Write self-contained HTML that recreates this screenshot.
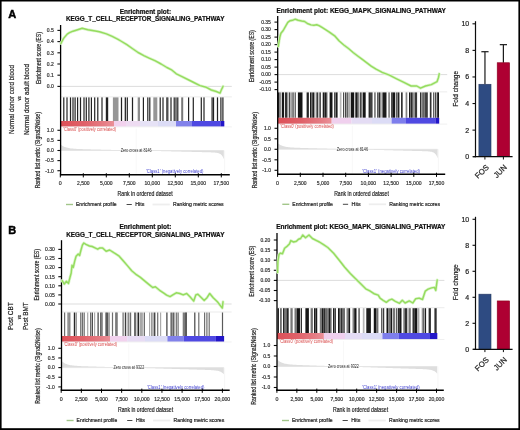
<!DOCTYPE html>
<html><head><meta charset="utf-8"><style>
html,body{margin:0;padding:0;background:#fff;}
svg{display:block;}
text{font-family:"Liberation Sans", sans-serif;}
</style></head><body>
<svg width="520" height="430" viewBox="0 0 520 430">
<rect x="0" y="0" width="520" height="430" fill="#fff"/>
<defs><filter id="bl" x="0" y="0" width="100%" height="100%"><feGaussianBlur stdDeviation="0.3"/></filter></defs>
<g opacity="0.999" filter="url(#bl)">
<line x1="57.40" y1="30.40" x2="60.60" y2="30.40" stroke="#111" stroke-width="1.1"/>
<text x="53.80" y="32.20" font-size="5.0" text-anchor="end" fill="#333" stroke="#333" stroke-width="0.2" textLength="6.95" lengthAdjust="spacingAndGlyphs">0.5</text>
<line x1="57.40" y1="41.60" x2="60.60" y2="41.60" stroke="#111" stroke-width="1.1"/>
<text x="53.80" y="43.40" font-size="5.0" text-anchor="end" fill="#333" stroke="#333" stroke-width="0.2" textLength="6.95" lengthAdjust="spacingAndGlyphs">0.4</text>
<line x1="57.40" y1="52.80" x2="60.60" y2="52.80" stroke="#111" stroke-width="1.1"/>
<text x="53.80" y="54.60" font-size="5.0" text-anchor="end" fill="#333" stroke="#333" stroke-width="0.2" textLength="6.95" lengthAdjust="spacingAndGlyphs">0.3</text>
<line x1="57.40" y1="64.00" x2="60.60" y2="64.00" stroke="#111" stroke-width="1.1"/>
<text x="53.80" y="65.80" font-size="5.0" text-anchor="end" fill="#333" stroke="#333" stroke-width="0.2" textLength="6.95" lengthAdjust="spacingAndGlyphs">0.2</text>
<line x1="57.40" y1="75.20" x2="60.60" y2="75.20" stroke="#111" stroke-width="1.1"/>
<text x="53.80" y="77.00" font-size="5.0" text-anchor="end" fill="#333" stroke="#333" stroke-width="0.2" textLength="6.95" lengthAdjust="spacingAndGlyphs">0.1</text>
<line x1="57.40" y1="86.40" x2="60.60" y2="86.40" stroke="#111" stroke-width="1.1"/>
<text x="53.80" y="88.20" font-size="5.0" text-anchor="end" fill="#333" stroke="#333" stroke-width="0.2" textLength="6.95" lengthAdjust="spacingAndGlyphs">0.0</text>
<line x1="60.60" y1="86.40" x2="231.80" y2="86.40" stroke="#cfcfcf" stroke-width="0.7"/>
<line x1="60.60" y1="96.90" x2="231.80" y2="96.90" stroke="#dedede" stroke-width="0.6"/>
<rect x="63.20" y="97.40" width="1.20" height="23.60" fill="#232323"/>
<rect x="66.40" y="97.40" width="1.20" height="23.60" fill="#232323"/>
<rect x="69.90" y="97.40" width="1.20" height="23.60" fill="#232323"/>
<rect x="72.40" y="97.40" width="1.20" height="23.60" fill="#232323"/>
<rect x="74.50" y="97.40" width="1.20" height="23.60" fill="#232323"/>
<rect x="77.00" y="97.40" width="1.20" height="23.60" fill="#232323"/>
<rect x="79.90" y="97.40" width="1.20" height="23.60" fill="#232323"/>
<rect x="83.40" y="97.40" width="1.20" height="23.60" fill="#232323"/>
<rect x="85.70" y="97.40" width="1.20" height="23.60" fill="#232323"/>
<rect x="88.30" y="97.40" width="1.20" height="23.60" fill="#232323"/>
<rect x="90.80" y="97.40" width="1.20" height="23.60" fill="#232323"/>
<rect x="94.10" y="97.40" width="1.20" height="23.60" fill="#232323"/>
<rect x="97.20" y="97.40" width="1.20" height="23.60" fill="#232323"/>
<rect x="101.40" y="97.40" width="1.20" height="23.60" fill="#232323"/>
<rect x="105.80" y="97.40" width="1.20" height="23.60" fill="#232323"/>
<rect x="107.00" y="97.40" width="1.20" height="23.60" fill="#232323"/>
<rect x="112.90" y="97.40" width="5.60" height="23.60" fill="#969696"/>
<rect x="120.90" y="97.40" width="1.20" height="23.60" fill="#232323"/>
<rect x="124.70" y="97.40" width="1.20" height="23.60" fill="#141414"/>
<rect x="126.70" y="97.40" width="1.20" height="23.60" fill="#232323"/>
<rect x="131.90" y="97.40" width="1.20" height="23.60" fill="#232323"/>
<rect x="137.70" y="97.40" width="2.30" height="23.60" fill="#8c8c8c"/>
<rect x="142.80" y="97.40" width="1.20" height="23.60" fill="#232323"/>
<rect x="147.20" y="97.40" width="1.20" height="23.60" fill="#282828"/>
<rect x="149.20" y="97.40" width="1.20" height="23.60" fill="#232323"/>
<rect x="153.30" y="97.40" width="4.00" height="23.60" fill="#969696"/>
<rect x="159.60" y="97.40" width="1.20" height="23.60" fill="#232323"/>
<rect x="162.40" y="97.40" width="1.20" height="23.60" fill="#232323"/>
<rect x="166.50" y="97.40" width="2.30" height="23.60" fill="#969696"/>
<rect x="166.40" y="97.40" width="1.20" height="23.60" fill="#232323"/>
<rect x="170.40" y="97.40" width="1.20" height="23.60" fill="#232323"/>
<rect x="173.60" y="97.40" width="1.20" height="23.60" fill="#232323"/>
<rect x="175.40" y="97.40" width="1.20" height="23.60" fill="#232323"/>
<rect x="177.20" y="97.40" width="1.20" height="23.60" fill="#232323"/>
<rect x="181.20" y="97.40" width="2.00" height="23.60" fill="#787878"/>
<rect x="188.00" y="97.40" width="1.20" height="23.60" fill="#232323"/>
<rect x="192.70" y="97.40" width="1.20" height="23.60" fill="#232323"/>
<rect x="200.70" y="97.40" width="1.20" height="23.60" fill="#232323"/>
<rect x="203.40" y="97.40" width="1.20" height="23.60" fill="#232323"/>
<rect x="211.50" y="97.40" width="1.20" height="23.60" fill="#232323"/>
<rect x="212.90" y="97.40" width="1.20" height="23.60" fill="#232323"/>
<rect x="216.90" y="97.40" width="1.20" height="23.60" fill="#232323"/>
<rect x="220.30" y="97.40" width="1.20" height="23.60" fill="#232323"/>
<rect x="222.30" y="97.40" width="1.20" height="23.60" fill="#232323"/>
<defs><linearGradient id="g58" x1="0" x2="1" y1="0" y2="0"><stop offset="0" stop-color="#dd5058"/><stop offset="0.45" stop-color="#e0626a"/><stop offset="0.8" stop-color="#e57c84"/><stop offset="1" stop-color="#ea9098"/></linearGradient></defs>
<rect x="60.60" y="121.00" width="53.40" height="5.60" fill="url(#g58)"/>
<rect x="114.00" y="121.00" width="12.00" height="5.60" fill="#f2d2ee"/>
<rect x="126.00" y="121.00" width="14.00" height="5.60" fill="#eedcf2"/>
<rect x="140.00" y="121.00" width="18.00" height="5.60" fill="#e6e2f6"/>
<rect x="158.00" y="121.00" width="18.00" height="5.60" fill="#dcdcf6"/>
<rect x="176.00" y="121.00" width="16.00" height="5.60" fill="#8282ea"/>
<rect x="192.00" y="121.00" width="28.40" height="5.60" fill="#5048e2"/>
<rect x="220.40" y="121.00" width="3.90" height="5.60" fill="#2412c8"/>
<line x1="60.60" y1="126.90" x2="231.80" y2="126.90" stroke="#e6e6e6" stroke-width="0.6"/>
<line x1="57.40" y1="130.30" x2="60.60" y2="130.30" stroke="#111" stroke-width="1.1"/>
<text x="53.80" y="132.10" font-size="5.0" text-anchor="end" fill="#333" stroke="#333" stroke-width="0.2" textLength="6.95" lengthAdjust="spacingAndGlyphs">1.0</text>
<line x1="57.40" y1="140.40" x2="60.60" y2="140.40" stroke="#111" stroke-width="1.1"/>
<text x="53.80" y="142.20" font-size="5.0" text-anchor="end" fill="#333" stroke="#333" stroke-width="0.2" textLength="6.95" lengthAdjust="spacingAndGlyphs">0.5</text>
<line x1="57.40" y1="150.50" x2="60.60" y2="150.50" stroke="#111" stroke-width="1.1"/>
<text x="53.80" y="152.30" font-size="5.0" text-anchor="end" fill="#333" stroke="#333" stroke-width="0.2" textLength="6.95" lengthAdjust="spacingAndGlyphs">0.0</text>
<line x1="57.40" y1="160.60" x2="60.60" y2="160.60" stroke="#111" stroke-width="1.1"/>
<text x="53.80" y="162.40" font-size="5.0" text-anchor="end" fill="#333" stroke="#333" stroke-width="0.2" textLength="8.55" lengthAdjust="spacingAndGlyphs">-0.5</text>
<line x1="57.40" y1="170.70" x2="60.60" y2="170.70" stroke="#111" stroke-width="1.1"/>
<text x="53.80" y="172.50" font-size="5.0" text-anchor="end" fill="#333" stroke="#333" stroke-width="0.2" textLength="8.55" lengthAdjust="spacingAndGlyphs">-1.0</text>
<polygon points="60.60,144.59 61.62,145.37 62.64,146.02 63.66,146.54 64.68,146.97 65.70,147.33 66.72,147.62 67.74,147.87 68.76,148.07 69.78,148.24 70.80,148.38 71.82,148.50 72.84,148.60 73.86,148.69 74.88,148.76 75.90,148.83 76.92,148.89 77.94,148.94 78.96,148.99 79.98,149.03 81.00,149.07 82.02,149.11 83.04,149.14 84.06,149.18 85.08,149.21 86.10,149.24 87.12,149.27 88.14,149.30 89.16,149.32 90.18,149.35 91.20,149.38 92.22,149.40 93.24,149.43 94.26,149.46 95.28,149.48 96.30,149.51 97.32,149.54 98.34,149.56 99.36,149.59 100.38,149.61 101.40,149.64 102.42,149.66 103.44,149.69 104.46,149.71 105.48,149.74 106.50,149.76 107.52,149.79 108.54,149.82 109.56,149.84 110.58,149.87 111.60,149.89 112.62,149.92 113.64,149.94 114.66,149.97 115.68,149.99 116.70,150.02 117.72,150.04 118.74,150.07 119.76,150.09 120.78,150.12 121.80,150.14 122.82,150.17 123.84,150.19 124.86,150.22 125.88,150.24 126.90,150.27 127.92,150.30 128.94,150.32 129.96,150.35 130.98,150.37 132.00,150.40 133.02,150.42 134.04,150.45 135.06,150.47 136.08,150.50 137.10,150.52 138.12,150.55 139.14,150.57 140.16,150.60 141.18,150.62 142.20,150.65 143.22,150.67 144.24,150.70 145.26,150.72 146.28,150.75 147.30,150.77 148.32,150.80 149.34,150.83 150.36,150.85 151.38,150.88 152.40,150.90 153.42,150.93 154.44,150.95 155.46,150.98 156.48,151.00 157.50,151.03 158.52,151.05 159.54,151.08 160.56,151.10 161.58,151.13 162.60,151.15 163.62,151.18 164.64,151.20 165.66,151.23 166.68,151.25 167.70,151.28 168.72,151.31 169.74,151.33 170.76,151.36 171.78,151.38 172.80,151.41 173.82,151.43 174.84,151.46 175.86,151.48 176.88,151.51 177.90,151.53 178.92,151.56 179.94,151.58 180.96,151.61 181.98,151.63 183.00,151.66 184.02,151.68 185.04,151.71 186.06,151.73 187.08,151.76 188.10,151.78 189.12,151.81 190.14,151.84 191.16,151.86 192.18,151.89 193.20,151.91 194.22,151.94 195.24,151.96 196.26,151.99 197.28,152.01 198.30,152.04 199.32,152.06 200.34,152.09 201.36,152.11 202.38,152.14 203.40,152.16 204.42,152.19 205.44,152.22 206.46,152.24 207.48,152.27 208.50,152.30 209.52,152.33 210.54,152.36 211.56,152.40 212.58,152.44 213.60,152.49 214.62,152.56 215.64,152.65 216.66,152.78 217.68,152.96 218.70,153.24 219.72,153.65 220.74,154.29 221.76,155.26 222.78,156.78 223.80,159.13 223.80,150.50 60.60,150.50" fill="#dedede"/>
<line x1="60.60" y1="150.50" x2="223.80" y2="150.50" stroke="#e2e2e2" stroke-width="0.7"/>
<line x1="224.60" y1="150.50" x2="224.60" y2="173.80" stroke="#f0f0f0" stroke-width="0.6"/>
<line x1="136.20" y1="128.60" x2="136.20" y2="173.80" stroke="#f3f3f3" stroke-width="0.6"/>
<text x="136.20" y="151.90" font-size="4.5" text-anchor="middle" fill="#2a2a2a" textLength="31.00" lengthAdjust="spacingAndGlyphs">Zero cross at 8146</text>
<text x="63.20" y="131.20" font-size="4.5" text-anchor="start" fill="#d84848" textLength="52.80" lengthAdjust="spacingAndGlyphs">'Class0' (positively correlated)</text>
<text x="146.00" y="173.20" font-size="4.5" text-anchor="start" fill="#4040d0" textLength="57.40" lengthAdjust="spacingAndGlyphs">'Class1' (negatively correlated)</text>
<line x1="60.00" y1="174.80" x2="229.80" y2="174.80" stroke="#000" stroke-width="1.5"/>
<line x1="60.60" y1="25.00" x2="60.60" y2="175.50" stroke="#000" stroke-width="1.3"/>
<line x1="60.30" y1="173.20" x2="60.30" y2="177.40" stroke="#000" stroke-width="1.0"/>
<text x="60.30" y="185.10" font-size="5.3" text-anchor="middle" fill="#333" stroke="#333" stroke-width="0.2">0</text>
<line x1="83.30" y1="173.20" x2="83.30" y2="177.40" stroke="#000" stroke-width="1.0"/>
<text x="83.30" y="185.10" font-size="5.3" text-anchor="middle" fill="#333" stroke="#333" stroke-width="0.2" textLength="12.50" lengthAdjust="spacingAndGlyphs">2,500</text>
<line x1="106.30" y1="173.20" x2="106.30" y2="177.40" stroke="#000" stroke-width="1.0"/>
<text x="106.30" y="185.10" font-size="5.3" text-anchor="middle" fill="#333" stroke="#333" stroke-width="0.2" textLength="12.50" lengthAdjust="spacingAndGlyphs">5,000</text>
<line x1="129.30" y1="173.20" x2="129.30" y2="177.40" stroke="#000" stroke-width="1.0"/>
<text x="129.30" y="185.10" font-size="5.3" text-anchor="middle" fill="#333" stroke="#333" stroke-width="0.2" textLength="12.50" lengthAdjust="spacingAndGlyphs">7,500</text>
<line x1="152.30" y1="173.20" x2="152.30" y2="177.40" stroke="#000" stroke-width="1.0"/>
<text x="152.30" y="185.10" font-size="5.3" text-anchor="middle" fill="#333" stroke="#333" stroke-width="0.2" textLength="15.60" lengthAdjust="spacingAndGlyphs">10,000</text>
<line x1="175.30" y1="173.20" x2="175.30" y2="177.40" stroke="#000" stroke-width="1.0"/>
<text x="175.30" y="185.10" font-size="5.3" text-anchor="middle" fill="#333" stroke="#333" stroke-width="0.2" textLength="15.60" lengthAdjust="spacingAndGlyphs">12,500</text>
<line x1="198.30" y1="173.20" x2="198.30" y2="177.40" stroke="#000" stroke-width="1.0"/>
<text x="198.30" y="185.10" font-size="5.3" text-anchor="middle" fill="#333" stroke="#333" stroke-width="0.2" textLength="15.60" lengthAdjust="spacingAndGlyphs">15,000</text>
<line x1="221.30" y1="173.20" x2="221.30" y2="177.40" stroke="#000" stroke-width="1.0"/>
<text x="221.30" y="185.10" font-size="5.3" text-anchor="middle" fill="#333" stroke="#333" stroke-width="0.2" textLength="15.60" lengthAdjust="spacingAndGlyphs">17,500</text>
<text x="145.20" y="195.90" font-size="7.3" text-anchor="middle" fill="#222" stroke="#222" stroke-width="0.2" textLength="55.20" lengthAdjust="spacingAndGlyphs">Rank in ordered dataset</text>
<line x1="66.00" y1="204.50" x2="73.00" y2="204.50" stroke="#a2c68a" stroke-width="1.4"/>
<text x="76.00" y="206.30" font-size="5.5" text-anchor="start" fill="#222" stroke="#222" stroke-width="0.2" textLength="40.60" lengthAdjust="spacingAndGlyphs">Enrichment profile</text>
<line x1="126.60" y1="204.50" x2="131.80" y2="204.50" stroke="#333" stroke-width="0.9"/>
<text x="135.30" y="206.30" font-size="5.5" text-anchor="start" fill="#222" stroke="#222" stroke-width="0.2" textLength="9.10" lengthAdjust="spacingAndGlyphs">Hits</text>
<line x1="152.50" y1="204.50" x2="169.80" y2="204.50" stroke="#eeeeee" stroke-width="1.8"/>
<text x="173.00" y="206.30" font-size="5.5" text-anchor="start" fill="#222" stroke="#222" stroke-width="0.2" textLength="50.70" lengthAdjust="spacingAndGlyphs">Ranking metric scores</text>
<text x="41.10" y="58.10" font-size="6.6" text-anchor="middle" fill="#222" stroke="#222" stroke-width="0.2" textLength="52.00" lengthAdjust="spacingAndGlyphs" transform="rotate(-90 41.10 58.10)">Enrichment score (ES)</text>
<text x="40.10" y="150.20" font-size="6.6" text-anchor="middle" fill="#222" stroke="#222" stroke-width="0.2" textLength="76.30" lengthAdjust="spacingAndGlyphs" transform="rotate(-90 40.10 150.20)">Ranked list metric (Signal2Noise)</text>
<polyline points="61.0,43.5 61.5,42.2 63.8,38.1 67.2,34.1 69.5,32.6 73.0,31.2 77.6,29.8 82.2,28.3 88.0,29.8 93.8,30.7 99.5,31.8 106.4,33.9 112.2,36.4 118.0,39.3 120.8,41.0 126.5,44.4 132.3,48.5 138.1,52.5 143.8,55.6 149.6,58.3 155.4,60.9 161.1,64.0 166.9,67.5 171.5,69.8 176.3,73.8 182.5,76.9 188.8,80.0 193.8,82.5 200.0,85.6 206.3,87.3 211.3,90.0 216.3,91.5 220.0,93.1 221.3,90.0 223.1,86.3" fill="none" stroke="#dcf5cc" stroke-width="2.9" stroke-linejoin="round" stroke-linecap="round"/>
<polyline points="61.0,43.5 61.5,42.2 63.8,38.1 67.2,34.1 69.5,32.6 73.0,31.2 77.6,29.8 82.2,28.3 88.0,29.8 93.8,30.7 99.5,31.8 106.4,33.9 112.2,36.4 118.0,39.3 120.8,41.0 126.5,44.4 132.3,48.5 138.1,52.5 143.8,55.6 149.6,58.3 155.4,60.9 161.1,64.0 166.9,67.5 171.5,69.8 176.3,73.8 182.5,76.9 188.8,80.0 193.8,82.5 200.0,85.6 206.3,87.3 211.3,90.0 216.3,91.5 220.0,93.1 221.3,90.0 223.1,86.3" fill="none" stroke="#95dc5e" stroke-width="1.45" stroke-linejoin="round" stroke-linecap="round"/>
<text x="145.40" y="13.60" font-size="7.0" text-anchor="middle" fill="#111" font-weight="bold" textLength="51.40" lengthAdjust="spacingAndGlyphs" stroke="#111" stroke-width="0.22">Enrichment plot:</text>
<text x="145.20" y="21.20" font-size="7.0" text-anchor="middle" fill="#111" font-weight="bold" textLength="158.40" lengthAdjust="spacingAndGlyphs" stroke="#111" stroke-width="0.22">KEGG_T_CELL_RECEPTOR_SIGNALING_PATHWAY</text>
<line x1="274.50" y1="22.10" x2="277.70" y2="22.10" stroke="#111" stroke-width="1.1"/>
<text x="270.90" y="23.90" font-size="5.0" text-anchor="end" fill="#333" stroke="#333" stroke-width="0.2" textLength="9.70" lengthAdjust="spacingAndGlyphs">0.35</text>
<line x1="274.50" y1="29.60" x2="277.70" y2="29.60" stroke="#111" stroke-width="1.1"/>
<text x="270.90" y="31.40" font-size="5.0" text-anchor="end" fill="#333" stroke="#333" stroke-width="0.2" textLength="9.70" lengthAdjust="spacingAndGlyphs">0.30</text>
<line x1="274.50" y1="37.10" x2="277.70" y2="37.10" stroke="#111" stroke-width="1.1"/>
<text x="270.90" y="38.90" font-size="5.0" text-anchor="end" fill="#333" stroke="#333" stroke-width="0.2" textLength="9.70" lengthAdjust="spacingAndGlyphs">0.25</text>
<line x1="274.50" y1="44.60" x2="277.70" y2="44.60" stroke="#111" stroke-width="1.1"/>
<text x="270.90" y="46.40" font-size="5.0" text-anchor="end" fill="#333" stroke="#333" stroke-width="0.2" textLength="9.70" lengthAdjust="spacingAndGlyphs">0.20</text>
<line x1="274.50" y1="52.10" x2="277.70" y2="52.10" stroke="#111" stroke-width="1.1"/>
<text x="270.90" y="53.90" font-size="5.0" text-anchor="end" fill="#333" stroke="#333" stroke-width="0.2" textLength="9.70" lengthAdjust="spacingAndGlyphs">0.15</text>
<line x1="274.50" y1="59.60" x2="277.70" y2="59.60" stroke="#111" stroke-width="1.1"/>
<text x="270.90" y="61.40" font-size="5.0" text-anchor="end" fill="#333" stroke="#333" stroke-width="0.2" textLength="9.70" lengthAdjust="spacingAndGlyphs">0.10</text>
<line x1="274.50" y1="67.10" x2="277.70" y2="67.10" stroke="#111" stroke-width="1.1"/>
<text x="270.90" y="68.90" font-size="5.0" text-anchor="end" fill="#333" stroke="#333" stroke-width="0.2" textLength="9.70" lengthAdjust="spacingAndGlyphs">0.05</text>
<line x1="274.50" y1="74.60" x2="277.70" y2="74.60" stroke="#111" stroke-width="1.1"/>
<text x="270.90" y="76.40" font-size="5.0" text-anchor="end" fill="#333" stroke="#333" stroke-width="0.2" textLength="9.70" lengthAdjust="spacingAndGlyphs">0.00</text>
<line x1="274.50" y1="82.10" x2="277.70" y2="82.10" stroke="#111" stroke-width="1.1"/>
<text x="270.90" y="83.90" font-size="5.0" text-anchor="end" fill="#333" stroke="#333" stroke-width="0.2" textLength="11.30" lengthAdjust="spacingAndGlyphs">-0.05</text>
<line x1="274.50" y1="89.60" x2="277.70" y2="89.60" stroke="#111" stroke-width="1.1"/>
<text x="270.90" y="91.40" font-size="5.0" text-anchor="end" fill="#333" stroke="#333" stroke-width="0.2" textLength="11.30" lengthAdjust="spacingAndGlyphs">-0.10</text>
<line x1="277.70" y1="74.60" x2="447.20" y2="74.60" stroke="#cfcfcf" stroke-width="0.7"/>
<line x1="277.70" y1="91.90" x2="447.20" y2="91.90" stroke="#dedede" stroke-width="0.6"/>
<rect x="277.90" y="92.40" width="1.16" height="25.40" fill="#1e1e1e"/>
<rect x="279.46" y="92.40" width="1.05" height="25.40" fill="#1e1e1e"/>
<rect x="281.80" y="92.40" width="2.30" height="25.40" fill="#191919"/>
<rect x="285.00" y="92.40" width="2.50" height="25.40" fill="#323232"/>
<rect x="288.70" y="92.40" width="1.70" height="25.40" fill="#464646"/>
<rect x="291.60" y="92.40" width="0.93" height="25.40" fill="#1e1e1e"/>
<rect x="293.42" y="92.40" width="0.69" height="25.40" fill="#1e1e1e"/>
<rect x="294.78" y="92.40" width="0.88" height="25.40" fill="#1e1e1e"/>
<rect x="297.90" y="92.40" width="4.60" height="25.40" fill="#191919"/>
<rect x="306.60" y="92.40" width="2.30" height="25.40" fill="#282828"/>
<rect x="310.00" y="92.40" width="1.38" height="25.40" fill="#1e1e1e"/>
<rect x="311.59" y="92.40" width="1.17" height="25.40" fill="#1e1e1e"/>
<rect x="312.94" y="92.40" width="1.48" height="25.40" fill="#1e1e1e"/>
<rect x="315.80" y="92.40" width="0.76" height="25.40" fill="#1e1e1e"/>
<rect x="317.13" y="92.40" width="0.94" height="25.40" fill="#1e1e1e"/>
<rect x="318.78" y="92.40" width="0.78" height="25.40" fill="#1e1e1e"/>
<rect x="320.13" y="92.40" width="0.78" height="25.40" fill="#1e1e1e"/>
<rect x="322.70" y="92.40" width="1.46" height="25.40" fill="#1e1e1e"/>
<rect x="324.34" y="92.40" width="1.74" height="25.40" fill="#1e1e1e"/>
<rect x="326.30" y="92.40" width="1.00" height="25.40" fill="#1e1e1e"/>
<rect x="329.60" y="92.40" width="2.90" height="25.40" fill="#141414"/>
<rect x="334.20" y="92.40" width="1.22" height="25.40" fill="#1e1e1e"/>
<rect x="335.68" y="92.40" width="1.49" height="25.40" fill="#1e1e1e"/>
<rect x="337.48" y="92.40" width="0.52" height="25.40" fill="#1e1e1e"/>
<rect x="339.80" y="92.40" width="1.70" height="25.40" fill="#b9b9b9"/>
<rect x="343.20" y="92.40" width="0.93" height="25.40" fill="#1e1e1e"/>
<rect x="344.96" y="92.40" width="0.86" height="25.40" fill="#1e1e1e"/>
<rect x="346.58" y="92.40" width="1.10" height="25.40" fill="#1e1e1e"/>
<rect x="348.66" y="92.40" width="0.71" height="25.40" fill="#1e1e1e"/>
<rect x="350.70" y="92.40" width="3.50" height="25.40" fill="#141414"/>
<rect x="355.30" y="92.40" width="1.72" height="25.40" fill="#1e1e1e"/>
<rect x="357.29" y="92.40" width="1.33" height="25.40" fill="#1e1e1e"/>
<rect x="358.80" y="92.40" width="1.20" height="25.40" fill="#c8c8c8"/>
<rect x="360.00" y="92.40" width="0.84" height="25.40" fill="#1e1e1e"/>
<rect x="361.42" y="92.40" width="0.83" height="25.40" fill="#1e1e1e"/>
<rect x="362.80" y="92.40" width="2.90" height="25.40" fill="#191919"/>
<rect x="368.60" y="92.40" width="1.34" height="25.40" fill="#1e1e1e"/>
<rect x="370.15" y="92.40" width="1.70" height="25.40" fill="#1e1e1e"/>
<rect x="372.10" y="92.40" width="0.50" height="25.40" fill="#1e1e1e"/>
<rect x="374.40" y="92.40" width="1.10" height="25.40" fill="#323232"/>
<rect x="377.30" y="92.40" width="1.27" height="25.40" fill="#1e1e1e"/>
<rect x="379.07" y="92.40" width="1.30" height="25.40" fill="#1e1e1e"/>
<rect x="380.88" y="92.40" width="0.42" height="25.40" fill="#1e1e1e"/>
<rect x="382.40" y="92.40" width="4.10" height="25.40" fill="#1e1e1e"/>
<rect x="388.20" y="92.40" width="1.80" height="25.40" fill="#8c8c8c"/>
<rect x="391.10" y="92.40" width="1.20" height="25.40" fill="#3c3c3c"/>
<rect x="392.30" y="92.40" width="2.90" height="25.40" fill="#191919"/>
<rect x="396.30" y="92.40" width="1.25" height="25.40" fill="#1e1e1e"/>
<rect x="398.04" y="92.40" width="0.97" height="25.40" fill="#1e1e1e"/>
<rect x="399.39" y="92.40" width="0.41" height="25.40" fill="#1e1e1e"/>
<rect x="401.00" y="92.40" width="1.70" height="25.40" fill="#323232"/>
<rect x="405.60" y="92.40" width="1.70" height="25.40" fill="#828282"/>
<rect x="409.00" y="92.40" width="1.18" height="25.40" fill="#1e1e1e"/>
<rect x="410.46" y="92.40" width="1.48" height="25.40" fill="#1e1e1e"/>
<rect x="412.31" y="92.40" width="0.69" height="25.40" fill="#1e1e1e"/>
<rect x="413.00" y="92.40" width="1.80" height="25.40" fill="#969696"/>
<rect x="414.80" y="92.40" width="2.30" height="25.40" fill="#373737"/>
<rect x="420.00" y="92.40" width="0.92" height="25.40" fill="#1e1e1e"/>
<rect x="421.55" y="92.40" width="1.05" height="25.40" fill="#1e1e1e"/>
<rect x="423.32" y="92.40" width="0.99" height="25.40" fill="#1e1e1e"/>
<rect x="424.60" y="92.40" width="1.24" height="25.40" fill="#1e1e1e"/>
<rect x="426.14" y="92.40" width="1.56" height="25.40" fill="#1e1e1e"/>
<rect x="429.80" y="92.40" width="1.70" height="25.40" fill="#323232"/>
<rect x="433.30" y="92.40" width="0.98" height="25.40" fill="#1e1e1e"/>
<rect x="435.16" y="92.40" width="0.79" height="25.40" fill="#1e1e1e"/>
<rect x="436.65" y="92.40" width="0.65" height="25.40" fill="#1e1e1e"/>
<rect x="437.30" y="92.40" width="1.70" height="25.40" fill="#141414"/>
<defs><linearGradient id="g205" x1="0" x2="1" y1="0" y2="0"><stop offset="0" stop-color="#dd5058"/><stop offset="0.45" stop-color="#e0626a"/><stop offset="0.8" stop-color="#e57c84"/><stop offset="1" stop-color="#ea9098"/></linearGradient></defs>
<rect x="277.70" y="117.80" width="54.00" height="6.00" fill="url(#g205)"/>
<rect x="331.70" y="117.80" width="19.90" height="6.00" fill="#f0d0ee"/>
<rect x="351.60" y="117.80" width="20.40" height="6.00" fill="#e4dcf4"/>
<rect x="372.00" y="117.80" width="19.60" height="6.00" fill="#dcdcf6"/>
<rect x="391.60" y="117.80" width="14.40" height="6.00" fill="#7e7eec"/>
<rect x="406.00" y="117.80" width="29.40" height="6.00" fill="#5048e2"/>
<rect x="435.40" y="117.80" width="3.80" height="6.00" fill="#2412c8"/>
<line x1="277.70" y1="124.10" x2="447.20" y2="124.10" stroke="#e6e6e6" stroke-width="0.6"/>
<line x1="274.50" y1="128.30" x2="277.70" y2="128.30" stroke="#111" stroke-width="1.1"/>
<text x="270.90" y="130.10" font-size="5.0" text-anchor="end" fill="#333" stroke="#333" stroke-width="0.2" textLength="6.95" lengthAdjust="spacingAndGlyphs">1.0</text>
<line x1="274.50" y1="138.80" x2="277.70" y2="138.80" stroke="#111" stroke-width="1.1"/>
<text x="270.90" y="140.60" font-size="5.0" text-anchor="end" fill="#333" stroke="#333" stroke-width="0.2" textLength="6.95" lengthAdjust="spacingAndGlyphs">0.5</text>
<line x1="274.50" y1="149.30" x2="277.70" y2="149.30" stroke="#111" stroke-width="1.1"/>
<text x="270.90" y="151.10" font-size="5.0" text-anchor="end" fill="#333" stroke="#333" stroke-width="0.2" textLength="6.95" lengthAdjust="spacingAndGlyphs">0.0</text>
<line x1="274.50" y1="159.80" x2="277.70" y2="159.80" stroke="#111" stroke-width="1.1"/>
<text x="270.90" y="161.60" font-size="5.0" text-anchor="end" fill="#333" stroke="#333" stroke-width="0.2" textLength="8.55" lengthAdjust="spacingAndGlyphs">-0.5</text>
<line x1="274.50" y1="170.30" x2="277.70" y2="170.30" stroke="#111" stroke-width="1.1"/>
<text x="270.90" y="172.10" font-size="5.0" text-anchor="end" fill="#333" stroke="#333" stroke-width="0.2" textLength="8.55" lengthAdjust="spacingAndGlyphs">-1.0</text>
<polygon points="277.70,143.14 278.70,143.95 279.70,144.62 280.70,145.17 281.70,145.62 282.70,145.99 283.70,146.29 284.70,146.54 285.69,146.75 286.69,146.93 287.69,147.08 288.69,147.20 289.69,147.31 290.69,147.40 291.69,147.48 292.69,147.55 293.69,147.61 294.69,147.66 295.69,147.71 296.69,147.76 297.69,147.80 298.69,147.84 299.69,147.87 300.69,147.91 301.69,147.94 302.68,147.97 303.68,148.00 304.68,148.03 305.68,148.06 306.68,148.09 307.68,148.12 308.68,148.15 309.68,148.17 310.68,148.20 311.68,148.23 312.68,148.25 313.68,148.28 314.68,148.31 315.68,148.33 316.68,148.36 317.68,148.39 318.67,148.41 319.67,148.44 320.67,148.47 321.67,148.49 322.67,148.52 323.67,148.55 324.67,148.57 325.67,148.60 326.67,148.62 327.67,148.65 328.67,148.68 329.67,148.70 330.67,148.73 331.67,148.76 332.67,148.78 333.67,148.81 334.66,148.83 335.66,148.86 336.66,148.89 337.66,148.91 338.66,148.94 339.66,148.97 340.66,148.99 341.66,149.02 342.66,149.04 343.66,149.07 344.66,149.10 345.66,149.12 346.66,149.15 347.66,149.18 348.66,149.20 349.65,149.23 350.65,149.25 351.65,149.28 352.65,149.31 353.65,149.33 354.65,149.36 355.65,149.39 356.65,149.41 357.65,149.44 358.65,149.46 359.65,149.49 360.65,149.52 361.65,149.54 362.65,149.57 363.65,149.60 364.65,149.62 365.64,149.65 366.64,149.67 367.64,149.70 368.64,149.73 369.64,149.75 370.64,149.78 371.64,149.81 372.64,149.83 373.64,149.86 374.64,149.88 375.64,149.91 376.64,149.94 377.64,149.96 378.64,149.99 379.64,150.02 380.64,150.04 381.63,150.07 382.63,150.09 383.63,150.12 384.63,150.15 385.63,150.17 386.63,150.20 387.63,150.23 388.63,150.25 389.63,150.28 390.63,150.30 391.63,150.33 392.63,150.36 393.63,150.38 394.63,150.41 395.63,150.44 396.63,150.46 397.62,150.49 398.62,150.51 399.62,150.54 400.62,150.57 401.62,150.59 402.62,150.62 403.62,150.65 404.62,150.67 405.62,150.70 406.62,150.72 407.62,150.75 408.62,150.78 409.62,150.80 410.62,150.83 411.62,150.86 412.62,150.88 413.62,150.91 414.61,150.93 415.61,150.96 416.61,150.99 417.61,151.01 418.61,151.04 419.61,151.07 420.61,151.10 421.61,151.12 422.61,151.15 423.61,151.18 424.61,151.22 425.61,151.25 426.61,151.30 427.61,151.35 428.61,151.42 429.61,151.52 430.60,151.65 431.60,151.84 432.60,152.13 433.60,152.56 434.60,153.22 435.60,154.24 436.60,155.81 437.60,158.26 437.60,149.30 277.70,149.30" fill="#dedede"/>
<line x1="277.70" y1="149.30" x2="437.60" y2="149.30" stroke="#e2e2e2" stroke-width="0.7"/>
<line x1="438.40" y1="149.30" x2="438.40" y2="173.30" stroke="#f0f0f0" stroke-width="0.6"/>
<line x1="352.40" y1="125.80" x2="352.40" y2="173.30" stroke="#f3f3f3" stroke-width="0.6"/>
<text x="352.40" y="150.70" font-size="4.5" text-anchor="middle" fill="#2a2a2a" textLength="31.20" lengthAdjust="spacingAndGlyphs">Zero cross at 8146</text>
<text x="280.30" y="127.80" font-size="4.5" text-anchor="start" fill="#d84848" textLength="53.50" lengthAdjust="spacingAndGlyphs">'Class0' (positively correlated)</text>
<text x="362.30" y="172.90" font-size="4.5" text-anchor="start" fill="#4040d0" textLength="57.70" lengthAdjust="spacingAndGlyphs">'Class1' (negatively correlated)</text>
<line x1="277.10" y1="174.30" x2="445.20" y2="174.30" stroke="#000" stroke-width="1.5"/>
<line x1="277.70" y1="16.00" x2="277.70" y2="175.00" stroke="#000" stroke-width="1.3"/>
<line x1="277.60" y1="172.70" x2="277.60" y2="176.90" stroke="#000" stroke-width="1.0"/>
<text x="277.60" y="185.20" font-size="5.3" text-anchor="middle" fill="#333" stroke="#333" stroke-width="0.2">0</text>
<line x1="300.30" y1="172.70" x2="300.30" y2="176.90" stroke="#000" stroke-width="1.0"/>
<text x="300.30" y="185.20" font-size="5.3" text-anchor="middle" fill="#333" stroke="#333" stroke-width="0.2" textLength="12.50" lengthAdjust="spacingAndGlyphs">2,500</text>
<line x1="323.00" y1="172.70" x2="323.00" y2="176.90" stroke="#000" stroke-width="1.0"/>
<text x="323.00" y="185.20" font-size="5.3" text-anchor="middle" fill="#333" stroke="#333" stroke-width="0.2" textLength="12.50" lengthAdjust="spacingAndGlyphs">5,000</text>
<line x1="345.70" y1="172.70" x2="345.70" y2="176.90" stroke="#000" stroke-width="1.0"/>
<text x="345.70" y="185.20" font-size="5.3" text-anchor="middle" fill="#333" stroke="#333" stroke-width="0.2" textLength="12.50" lengthAdjust="spacingAndGlyphs">7,500</text>
<line x1="368.40" y1="172.70" x2="368.40" y2="176.90" stroke="#000" stroke-width="1.0"/>
<text x="368.40" y="185.20" font-size="5.3" text-anchor="middle" fill="#333" stroke="#333" stroke-width="0.2" textLength="15.60" lengthAdjust="spacingAndGlyphs">10,000</text>
<line x1="391.10" y1="172.70" x2="391.10" y2="176.90" stroke="#000" stroke-width="1.0"/>
<text x="391.10" y="185.20" font-size="5.3" text-anchor="middle" fill="#333" stroke="#333" stroke-width="0.2" textLength="15.60" lengthAdjust="spacingAndGlyphs">12,500</text>
<line x1="413.80" y1="172.70" x2="413.80" y2="176.90" stroke="#000" stroke-width="1.0"/>
<text x="413.80" y="185.20" font-size="5.3" text-anchor="middle" fill="#333" stroke="#333" stroke-width="0.2" textLength="15.60" lengthAdjust="spacingAndGlyphs">15,000</text>
<line x1="436.50" y1="172.70" x2="436.50" y2="176.90" stroke="#000" stroke-width="1.0"/>
<text x="436.50" y="185.20" font-size="5.3" text-anchor="middle" fill="#333" stroke="#333" stroke-width="0.2" textLength="15.60" lengthAdjust="spacingAndGlyphs">17,500</text>
<text x="361.50" y="195.90" font-size="7.3" text-anchor="middle" fill="#222" stroke="#222" stroke-width="0.2" textLength="54.70" lengthAdjust="spacingAndGlyphs">Rank in ordered dataset</text>
<line x1="282.30" y1="204.30" x2="289.30" y2="204.30" stroke="#a2c68a" stroke-width="1.4"/>
<text x="292.30" y="206.10" font-size="5.5" text-anchor="start" fill="#222" stroke="#222" stroke-width="0.2" textLength="40.60" lengthAdjust="spacingAndGlyphs">Enrichment profile</text>
<line x1="342.90" y1="204.30" x2="348.10" y2="204.30" stroke="#333" stroke-width="0.9"/>
<text x="351.60" y="206.10" font-size="5.5" text-anchor="start" fill="#222" stroke="#222" stroke-width="0.2" textLength="9.10" lengthAdjust="spacingAndGlyphs">Hits</text>
<line x1="368.80" y1="204.30" x2="386.10" y2="204.30" stroke="#eeeeee" stroke-width="1.8"/>
<text x="389.30" y="206.10" font-size="5.5" text-anchor="start" fill="#222" stroke="#222" stroke-width="0.2" textLength="50.70" lengthAdjust="spacingAndGlyphs">Ranking metric scores</text>
<text x="254.00" y="56.20" font-size="6.6" text-anchor="middle" fill="#222" stroke="#222" stroke-width="0.2" textLength="52.10" lengthAdjust="spacingAndGlyphs" transform="rotate(-90 254.00 56.20)">Enrichment score (ES)</text>
<text x="256.60" y="150.20" font-size="6.6" text-anchor="middle" fill="#222" stroke="#222" stroke-width="0.2" textLength="76.30" lengthAdjust="spacingAndGlyphs" transform="rotate(-90 256.60 150.20)">Ranked list metric (Signal2Noise)</text>
<polyline points="278.4,46.5 278.6,44.3 279.8,37.4 280.9,33.3 283.2,30.5 285.5,26.4 287.8,22.4 290.1,20.7 292.5,20.3 295.3,19.2 298.2,20.3 301.7,21.0 304.6,21.5 307.4,23.5 310.9,24.9 313.8,25.3 316.7,24.7 319.0,25.6 322.4,27.6 325.9,29.9 329.4,32.2 334.6,35.8 339.2,41.0 343.8,45.0 348.5,48.5 353.1,52.5 357.7,56.0 362.3,59.4 366.9,62.9 371.5,66.3 376.1,69.2 382.2,72.3 389.4,75.2 396.6,78.8 403.9,82.4 411.1,86.0 416.8,86.0 420.5,88.2 425.5,86.0 431.3,84.6 434.2,83.1 437.0,81.7 438.5,77.4 439.2,73.8" fill="none" stroke="#dcf5cc" stroke-width="2.9" stroke-linejoin="round" stroke-linecap="round"/>
<polyline points="278.4,46.5 278.6,44.3 279.8,37.4 280.9,33.3 283.2,30.5 285.5,26.4 287.8,22.4 290.1,20.7 292.5,20.3 295.3,19.2 298.2,20.3 301.7,21.0 304.6,21.5 307.4,23.5 310.9,24.9 313.8,25.3 316.7,24.7 319.0,25.6 322.4,27.6 325.9,29.9 329.4,32.2 334.6,35.8 339.2,41.0 343.8,45.0 348.5,48.5 353.1,52.5 357.7,56.0 362.3,59.4 366.9,62.9 371.5,66.3 376.1,69.2 382.2,72.3 389.4,75.2 396.6,78.8 403.9,82.4 411.1,86.0 416.8,86.0 420.5,88.2 425.5,86.0 431.3,84.6 434.2,83.1 437.0,81.7 438.5,77.4 439.2,73.8" fill="none" stroke="#95dc5e" stroke-width="1.45" stroke-linejoin="round" stroke-linecap="round"/>
<text x="361.20" y="12.80" font-size="7.0" text-anchor="middle" fill="#111" font-weight="bold" textLength="169.30" lengthAdjust="spacingAndGlyphs" stroke="#111" stroke-width="0.22">Enrichment plot: KEGG_MAPK_SIGNALING_PATHWAY</text>
<line x1="58.30" y1="249.40" x2="61.50" y2="249.40" stroke="#111" stroke-width="1.1"/>
<text x="54.70" y="251.20" font-size="5.0" text-anchor="end" fill="#333" stroke="#333" stroke-width="0.2" textLength="9.70" lengthAdjust="spacingAndGlyphs">0.30</text>
<line x1="58.30" y1="258.50" x2="61.50" y2="258.50" stroke="#111" stroke-width="1.1"/>
<text x="54.70" y="260.30" font-size="5.0" text-anchor="end" fill="#333" stroke="#333" stroke-width="0.2" textLength="9.70" lengthAdjust="spacingAndGlyphs">0.25</text>
<line x1="58.30" y1="267.60" x2="61.50" y2="267.60" stroke="#111" stroke-width="1.1"/>
<text x="54.70" y="269.40" font-size="5.0" text-anchor="end" fill="#333" stroke="#333" stroke-width="0.2" textLength="9.70" lengthAdjust="spacingAndGlyphs">0.20</text>
<line x1="58.30" y1="276.70" x2="61.50" y2="276.70" stroke="#111" stroke-width="1.1"/>
<text x="54.70" y="278.50" font-size="5.0" text-anchor="end" fill="#333" stroke="#333" stroke-width="0.2" textLength="9.70" lengthAdjust="spacingAndGlyphs">0.15</text>
<line x1="58.30" y1="285.80" x2="61.50" y2="285.80" stroke="#111" stroke-width="1.1"/>
<text x="54.70" y="287.60" font-size="5.0" text-anchor="end" fill="#333" stroke="#333" stroke-width="0.2" textLength="9.70" lengthAdjust="spacingAndGlyphs">0.10</text>
<line x1="58.30" y1="294.90" x2="61.50" y2="294.90" stroke="#111" stroke-width="1.1"/>
<text x="54.70" y="296.70" font-size="5.0" text-anchor="end" fill="#333" stroke="#333" stroke-width="0.2" textLength="9.70" lengthAdjust="spacingAndGlyphs">0.05</text>
<line x1="58.30" y1="304.00" x2="61.50" y2="304.00" stroke="#111" stroke-width="1.1"/>
<text x="54.70" y="305.80" font-size="5.0" text-anchor="end" fill="#333" stroke="#333" stroke-width="0.2" textLength="9.70" lengthAdjust="spacingAndGlyphs">0.00</text>
<line x1="61.50" y1="304.00" x2="231.60" y2="304.00" stroke="#cfcfcf" stroke-width="0.7"/>
<line x1="61.50" y1="312.00" x2="231.60" y2="312.00" stroke="#dedede" stroke-width="0.6"/>
<rect x="64.00" y="312.50" width="1.20" height="23.50" fill="#6e6e6e"/>
<rect x="67.50" y="312.50" width="1.20" height="23.50" fill="#646464"/>
<rect x="69.20" y="312.50" width="1.20" height="23.50" fill="#6e6e6e"/>
<rect x="73.80" y="312.50" width="1.20" height="23.50" fill="#282828"/>
<rect x="75.50" y="312.50" width="1.20" height="23.50" fill="#6e6e6e"/>
<rect x="80.20" y="312.50" width="1.20" height="23.50" fill="#646464"/>
<rect x="81.90" y="312.50" width="1.20" height="23.50" fill="#6e6e6e"/>
<rect x="83.60" y="312.50" width="1.20" height="23.50" fill="#6e6e6e"/>
<rect x="87.10" y="312.50" width="1.20" height="23.50" fill="#aaaaaa"/>
<rect x="90.00" y="312.50" width="1.20" height="23.50" fill="#6e6e6e"/>
<rect x="91.70" y="312.50" width="1.20" height="23.50" fill="#3c3c3c"/>
<rect x="94.00" y="312.50" width="1.20" height="23.50" fill="#aaaaaa"/>
<rect x="97.50" y="312.50" width="1.20" height="23.50" fill="#3c3c3c"/>
<rect x="100.30" y="312.50" width="1.20" height="23.50" fill="#282828"/>
<rect x="101.50" y="312.50" width="1.20" height="23.50" fill="#6e6e6e"/>
<rect x="105.50" y="312.50" width="1.20" height="23.50" fill="#282828"/>
<rect x="106.70" y="312.50" width="1.20" height="23.50" fill="#464646"/>
<rect x="108.40" y="312.50" width="1.20" height="23.50" fill="#6e6e6e"/>
<rect x="111.90" y="312.50" width="1.20" height="23.50" fill="#6e6e6e"/>
<rect x="115.40" y="312.50" width="1.20" height="23.50" fill="#3c3c3c"/>
<rect x="116.50" y="312.50" width="1.20" height="23.50" fill="#6e6e6e"/>
<rect x="122.50" y="312.50" width="1.20" height="23.50" fill="#6e6e6e"/>
<rect x="124.80" y="312.50" width="1.20" height="23.50" fill="#3c3c3c"/>
<rect x="126.50" y="312.50" width="1.20" height="23.50" fill="#aaaaaa"/>
<rect x="128.20" y="312.50" width="1.20" height="23.50" fill="#6e6e6e"/>
<rect x="130.00" y="312.50" width="1.20" height="23.50" fill="#6e6e6e"/>
<rect x="134.00" y="312.50" width="2.30" height="23.50" fill="#6e6e6e"/>
<rect x="137.50" y="312.50" width="1.70" height="23.50" fill="#282828"/>
<rect x="140.40" y="312.50" width="1.20" height="23.50" fill="#6e6e6e"/>
<rect x="142.10" y="312.50" width="1.20" height="23.50" fill="#aaaaaa"/>
<rect x="143.80" y="312.50" width="1.20" height="23.50" fill="#6e6e6e"/>
<rect x="149.00" y="312.50" width="1.20" height="23.50" fill="#aaaaaa"/>
<rect x="151.30" y="312.50" width="1.20" height="23.50" fill="#6e6e6e"/>
<rect x="153.60" y="312.50" width="1.80" height="23.50" fill="#464646"/>
<rect x="157.10" y="312.50" width="1.20" height="23.50" fill="#6e6e6e"/>
<rect x="160.00" y="312.50" width="1.20" height="23.50" fill="#aaaaaa"/>
<rect x="166.30" y="312.50" width="1.20" height="23.50" fill="#3c3c3c"/>
<rect x="170.40" y="312.50" width="2.30" height="23.50" fill="#6e6e6e"/>
<rect x="173.20" y="312.50" width="1.20" height="23.50" fill="#3c3c3c"/>
<rect x="175.70" y="312.50" width="1.20" height="23.50" fill="#6e6e6e"/>
<rect x="177.50" y="312.50" width="1.20" height="23.50" fill="#6e6e6e"/>
<rect x="182.70" y="312.50" width="4.00" height="23.50" fill="#7d7d7d"/>
<rect x="185.50" y="312.50" width="1.20" height="23.50" fill="#3c3c3c"/>
<rect x="194.20" y="312.50" width="1.20" height="23.50" fill="#464646"/>
<rect x="198.20" y="312.50" width="1.20" height="23.50" fill="#6e6e6e"/>
<rect x="204.00" y="312.50" width="1.20" height="23.50" fill="#6e6e6e"/>
<rect x="206.30" y="312.50" width="1.20" height="23.50" fill="#6e6e6e"/>
<rect x="208.60" y="312.50" width="1.20" height="23.50" fill="#6e6e6e"/>
<rect x="221.90" y="312.50" width="1.20" height="23.50" fill="#5a5a5a"/>
<defs><linearGradient id="g326" x1="0" x2="1" y1="0" y2="0"><stop offset="0" stop-color="#dd5058"/><stop offset="0.45" stop-color="#e0626a"/><stop offset="0.8" stop-color="#e57c84"/><stop offset="1" stop-color="#ea9098"/></linearGradient></defs>
<rect x="61.50" y="336.00" width="48.50" height="5.70" fill="url(#g326)"/>
<rect x="110.00" y="336.00" width="17.20" height="5.70" fill="#f2d2ee"/>
<rect x="127.20" y="336.00" width="17.80" height="5.70" fill="#e8dcf4"/>
<rect x="145.00" y="336.00" width="22.40" height="5.70" fill="#dcdcf6"/>
<rect x="167.40" y="336.00" width="16.50" height="5.70" fill="#8282ea"/>
<rect x="183.90" y="336.00" width="32.00" height="5.70" fill="#5048e2"/>
<rect x="215.90" y="336.00" width="8.20" height="5.70" fill="#2412c8"/>
<line x1="61.50" y1="342.00" x2="231.60" y2="342.00" stroke="#e6e6e6" stroke-width="0.6"/>
<line x1="58.30" y1="348.30" x2="61.50" y2="348.30" stroke="#111" stroke-width="1.1"/>
<text x="54.70" y="350.10" font-size="5.0" text-anchor="end" fill="#333" stroke="#333" stroke-width="0.2" textLength="6.95" lengthAdjust="spacingAndGlyphs">1.0</text>
<line x1="58.30" y1="357.95" x2="61.50" y2="357.95" stroke="#111" stroke-width="1.1"/>
<text x="54.70" y="359.75" font-size="5.0" text-anchor="end" fill="#333" stroke="#333" stroke-width="0.2" textLength="6.95" lengthAdjust="spacingAndGlyphs">0.5</text>
<line x1="58.30" y1="367.60" x2="61.50" y2="367.60" stroke="#111" stroke-width="1.1"/>
<text x="54.70" y="369.40" font-size="5.0" text-anchor="end" fill="#333" stroke="#333" stroke-width="0.2" textLength="6.95" lengthAdjust="spacingAndGlyphs">0.0</text>
<line x1="58.30" y1="377.25" x2="61.50" y2="377.25" stroke="#111" stroke-width="1.1"/>
<text x="54.70" y="379.05" font-size="5.0" text-anchor="end" fill="#333" stroke="#333" stroke-width="0.2" textLength="8.55" lengthAdjust="spacingAndGlyphs">-0.5</text>
<line x1="58.30" y1="386.90" x2="61.50" y2="386.90" stroke="#111" stroke-width="1.1"/>
<text x="54.70" y="388.70" font-size="5.0" text-anchor="end" fill="#333" stroke="#333" stroke-width="0.2" textLength="8.55" lengthAdjust="spacingAndGlyphs">-1.0</text>
<polygon points="61.50,360.97 62.51,361.87 63.53,362.61 64.54,363.21 65.56,363.71 66.57,364.12 67.59,364.45 68.60,364.73 69.61,364.97 70.63,365.16 71.64,365.32 72.66,365.46 73.67,365.58 74.69,365.68 75.70,365.77 76.72,365.85 77.73,365.92 78.74,365.98 79.76,366.03 80.77,366.08 81.79,366.13 82.80,366.17 83.82,366.22 84.83,366.25 85.84,366.29 86.86,366.33 87.87,366.36 88.89,366.40 89.90,366.43 90.92,366.46 91.93,366.49 92.95,366.53 93.96,366.56 94.97,366.59 95.99,366.62 97.00,366.65 98.02,366.68 99.03,366.71 100.05,366.74 101.06,366.77 102.08,366.80 103.09,366.83 104.10,366.87 105.12,366.90 106.13,366.93 107.15,366.96 108.16,366.99 109.18,367.02 110.19,367.05 111.20,367.08 112.22,367.11 113.23,367.14 114.25,367.17 115.26,367.20 116.28,367.23 117.29,367.26 118.31,367.29 119.32,367.32 120.33,367.35 121.35,367.38 122.36,367.41 123.38,367.44 124.39,367.47 125.41,367.50 126.42,367.53 127.43,367.56 128.45,367.59 129.46,367.62 130.48,367.65 131.49,367.68 132.51,367.71 133.52,367.74 134.54,367.77 135.55,367.80 136.56,367.83 137.58,367.86 138.59,367.89 139.61,367.92 140.62,367.95 141.64,367.98 142.65,368.01 143.66,368.04 144.68,368.07 145.69,368.10 146.71,368.13 147.72,368.16 148.74,368.19 149.75,368.22 150.77,368.25 151.78,368.28 152.79,368.31 153.81,368.34 154.82,368.37 155.84,368.40 156.85,368.43 157.87,368.46 158.88,368.49 159.89,368.52 160.91,368.55 161.92,368.58 162.94,368.61 163.95,368.65 164.97,368.68 165.98,368.71 167.00,368.74 168.01,368.77 169.02,368.80 170.04,368.83 171.05,368.86 172.07,368.89 173.08,368.92 174.10,368.95 175.11,368.98 176.12,369.01 177.14,369.04 178.15,369.07 179.17,369.10 180.18,369.13 181.20,369.16 182.21,369.19 183.23,369.22 184.24,369.25 185.25,369.28 186.27,369.31 187.28,369.34 188.30,369.37 189.31,369.40 190.33,369.43 191.34,369.46 192.35,369.49 193.37,369.52 194.38,369.55 195.40,369.58 196.41,369.61 197.43,369.64 198.44,369.67 199.46,369.70 200.47,369.73 201.48,369.76 202.50,369.80 203.51,369.83 204.53,369.86 205.54,369.90 206.56,369.93 207.57,369.97 208.58,370.01 209.60,370.05 210.61,370.10 211.63,370.15 212.64,370.22 213.66,370.29 214.67,370.38 215.69,370.50 216.70,370.65 217.71,370.84 218.73,371.08 219.74,371.41 220.76,371.85 221.77,372.43 222.79,373.22 223.80,374.28 223.80,367.60 61.50,367.60" fill="#dedede"/>
<line x1="61.50" y1="367.60" x2="223.80" y2="367.60" stroke="#e2e2e2" stroke-width="0.7"/>
<line x1="224.60" y1="367.60" x2="224.60" y2="389.20" stroke="#f0f0f0" stroke-width="0.6"/>
<line x1="128.80" y1="343.70" x2="128.80" y2="389.20" stroke="#f3f3f3" stroke-width="0.6"/>
<text x="128.80" y="369.00" font-size="4.5" text-anchor="middle" fill="#2a2a2a" textLength="30.80" lengthAdjust="spacingAndGlyphs">Zero cross at 9322</text>
<text x="63.80" y="346.00" font-size="4.5" text-anchor="start" fill="#d84848" textLength="53.20" lengthAdjust="spacingAndGlyphs">'Class0' (positively correlated)</text>
<text x="147.00" y="388.60" font-size="4.5" text-anchor="start" fill="#4040d0" textLength="57.40" lengthAdjust="spacingAndGlyphs">'Class1' (negatively correlated)</text>
<line x1="60.90" y1="390.20" x2="229.70" y2="390.20" stroke="#000" stroke-width="1.5"/>
<line x1="61.50" y1="240.20" x2="61.50" y2="390.90" stroke="#000" stroke-width="1.3"/>
<line x1="61.20" y1="388.60" x2="61.20" y2="392.80" stroke="#000" stroke-width="1.0"/>
<text x="61.20" y="401.20" font-size="5.3" text-anchor="middle" fill="#333" stroke="#333" stroke-width="0.2">0</text>
<line x1="81.35" y1="388.60" x2="81.35" y2="392.80" stroke="#000" stroke-width="1.0"/>
<text x="81.35" y="401.20" font-size="5.3" text-anchor="middle" fill="#333" stroke="#333" stroke-width="0.2" textLength="12.50" lengthAdjust="spacingAndGlyphs">2,500</text>
<line x1="101.50" y1="388.60" x2="101.50" y2="392.80" stroke="#000" stroke-width="1.0"/>
<text x="101.50" y="401.20" font-size="5.3" text-anchor="middle" fill="#333" stroke="#333" stroke-width="0.2" textLength="12.50" lengthAdjust="spacingAndGlyphs">5,000</text>
<line x1="121.65" y1="388.60" x2="121.65" y2="392.80" stroke="#000" stroke-width="1.0"/>
<text x="121.65" y="401.20" font-size="5.3" text-anchor="middle" fill="#333" stroke="#333" stroke-width="0.2" textLength="12.50" lengthAdjust="spacingAndGlyphs">7,500</text>
<line x1="141.80" y1="388.60" x2="141.80" y2="392.80" stroke="#000" stroke-width="1.0"/>
<text x="141.80" y="401.20" font-size="5.3" text-anchor="middle" fill="#333" stroke="#333" stroke-width="0.2" textLength="15.60" lengthAdjust="spacingAndGlyphs">10,000</text>
<line x1="161.95" y1="388.60" x2="161.95" y2="392.80" stroke="#000" stroke-width="1.0"/>
<text x="161.95" y="401.20" font-size="5.3" text-anchor="middle" fill="#333" stroke="#333" stroke-width="0.2" textLength="15.60" lengthAdjust="spacingAndGlyphs">12,500</text>
<line x1="182.10" y1="388.60" x2="182.10" y2="392.80" stroke="#000" stroke-width="1.0"/>
<text x="182.10" y="401.20" font-size="5.3" text-anchor="middle" fill="#333" stroke="#333" stroke-width="0.2" textLength="15.60" lengthAdjust="spacingAndGlyphs">15,000</text>
<line x1="202.25" y1="388.60" x2="202.25" y2="392.80" stroke="#000" stroke-width="1.0"/>
<text x="202.25" y="401.20" font-size="5.3" text-anchor="middle" fill="#333" stroke="#333" stroke-width="0.2" textLength="15.60" lengthAdjust="spacingAndGlyphs">17,500</text>
<line x1="222.40" y1="388.60" x2="222.40" y2="392.80" stroke="#000" stroke-width="1.0"/>
<text x="222.40" y="401.20" font-size="5.3" text-anchor="middle" fill="#333" stroke="#333" stroke-width="0.2" textLength="15.60" lengthAdjust="spacingAndGlyphs">20,000</text>
<text x="145.50" y="411.60" font-size="7.3" text-anchor="middle" fill="#222" stroke="#222" stroke-width="0.2" textLength="55.20" lengthAdjust="spacingAndGlyphs">Rank in ordered dataset</text>
<line x1="66.60" y1="420.50" x2="73.60" y2="420.50" stroke="#a2c68a" stroke-width="1.4"/>
<text x="76.60" y="422.30" font-size="5.5" text-anchor="start" fill="#222" stroke="#222" stroke-width="0.2" textLength="40.60" lengthAdjust="spacingAndGlyphs">Enrichment profile</text>
<line x1="127.20" y1="420.50" x2="132.40" y2="420.50" stroke="#333" stroke-width="0.9"/>
<text x="135.90" y="422.30" font-size="5.5" text-anchor="start" fill="#222" stroke="#222" stroke-width="0.2" textLength="9.10" lengthAdjust="spacingAndGlyphs">Hits</text>
<line x1="153.10" y1="420.50" x2="170.40" y2="420.50" stroke="#eeeeee" stroke-width="1.8"/>
<text x="173.60" y="422.30" font-size="5.5" text-anchor="start" fill="#222" stroke="#222" stroke-width="0.2" textLength="50.70" lengthAdjust="spacingAndGlyphs">Ranking metric scores</text>
<text x="39.20" y="274.80" font-size="6.6" text-anchor="middle" fill="#222" stroke="#222" stroke-width="0.2" textLength="51.50" lengthAdjust="spacingAndGlyphs" transform="rotate(-90 39.20 274.80)">Enrichment score (ES)</text>
<text x="40.20" y="366.00" font-size="6.6" text-anchor="middle" fill="#222" stroke="#222" stroke-width="0.2" textLength="75.30" lengthAdjust="spacingAndGlyphs" transform="rotate(-90 40.20 366.00)">Ranked list metric (Signal2Noise)</text>
<polyline points="62.0,281.0 62.2,280.6 64.3,284.1 66.4,281.3 68.5,283.4 69.9,277.8 71.2,273.0 72.0,265.3 73.3,267.4 74.7,261.1 76.1,256.2 78.2,254.1 79.6,255.5 81.0,250.0 82.4,245.1 83.8,243.0 85.9,244.4 89.4,246.0 92.2,246.5 95.0,247.9 97.7,249.2 99.8,247.9 102.6,247.9 106.1,251.3 109.6,250.0 113.8,252.7 115.0,253.4 119.2,256.2 123.4,261.0 127.6,265.9 131.7,270.8 135.9,274.3 140.1,277.1 144.3,280.6 148.5,284.1 152.7,287.5 155.4,286.8 159.6,290.3 163.8,293.1 166.6,295.2 170.1,296.6 172.8,294.9 176.3,292.8 179.8,293.5 183.2,294.9 186.7,293.5 190.2,297.0 193.7,301.1 195.8,294.9 197.9,294.2 200.7,297.0 204.2,300.4 207.0,297.7 209.7,293.5 213.2,297.7 217.4,301.8 222.3,308.1 223.0,301.8" fill="none" stroke="#dcf5cc" stroke-width="2.9" stroke-linejoin="round" stroke-linecap="round"/>
<polyline points="62.0,281.0 62.2,280.6 64.3,284.1 66.4,281.3 68.5,283.4 69.9,277.8 71.2,273.0 72.0,265.3 73.3,267.4 74.7,261.1 76.1,256.2 78.2,254.1 79.6,255.5 81.0,250.0 82.4,245.1 83.8,243.0 85.9,244.4 89.4,246.0 92.2,246.5 95.0,247.9 97.7,249.2 99.8,247.9 102.6,247.9 106.1,251.3 109.6,250.0 113.8,252.7 115.0,253.4 119.2,256.2 123.4,261.0 127.6,265.9 131.7,270.8 135.9,274.3 140.1,277.1 144.3,280.6 148.5,284.1 152.7,287.5 155.4,286.8 159.6,290.3 163.8,293.1 166.6,295.2 170.1,296.6 172.8,294.9 176.3,292.8 179.8,293.5 183.2,294.9 186.7,293.5 190.2,297.0 193.7,301.1 195.8,294.9 197.9,294.2 200.7,297.0 204.2,300.4 207.0,297.7 209.7,293.5 213.2,297.7 217.4,301.8 222.3,308.1 223.0,301.8" fill="none" stroke="#95dc5e" stroke-width="1.45" stroke-linejoin="round" stroke-linecap="round"/>
<text x="145.40" y="229.20" font-size="7.0" text-anchor="middle" fill="#111" font-weight="bold" textLength="51.90" lengthAdjust="spacingAndGlyphs" stroke="#111" stroke-width="0.22">Enrichment plot:</text>
<text x="145.30" y="237.20" font-size="7.0" text-anchor="middle" fill="#111" font-weight="bold" textLength="158.20" lengthAdjust="spacingAndGlyphs" stroke="#111" stroke-width="0.22">KEGG_T_CELL_RECEPTOR_SIGNALING_PATHWAY</text>
<line x1="273.80" y1="240.00" x2="277.00" y2="240.00" stroke="#111" stroke-width="1.1"/>
<text x="270.20" y="241.80" font-size="5.0" text-anchor="end" fill="#333" stroke="#333" stroke-width="0.2" textLength="9.70" lengthAdjust="spacingAndGlyphs">0.20</text>
<line x1="273.80" y1="250.10" x2="277.00" y2="250.10" stroke="#111" stroke-width="1.1"/>
<text x="270.20" y="251.90" font-size="5.0" text-anchor="end" fill="#333" stroke="#333" stroke-width="0.2" textLength="9.70" lengthAdjust="spacingAndGlyphs">0.15</text>
<line x1="273.80" y1="260.20" x2="277.00" y2="260.20" stroke="#111" stroke-width="1.1"/>
<text x="270.20" y="262.00" font-size="5.0" text-anchor="end" fill="#333" stroke="#333" stroke-width="0.2" textLength="9.70" lengthAdjust="spacingAndGlyphs">0.10</text>
<line x1="273.80" y1="270.30" x2="277.00" y2="270.30" stroke="#111" stroke-width="1.1"/>
<text x="270.20" y="272.10" font-size="5.0" text-anchor="end" fill="#333" stroke="#333" stroke-width="0.2" textLength="9.70" lengthAdjust="spacingAndGlyphs">0.05</text>
<line x1="273.80" y1="280.40" x2="277.00" y2="280.40" stroke="#111" stroke-width="1.1"/>
<text x="270.20" y="282.20" font-size="5.0" text-anchor="end" fill="#333" stroke="#333" stroke-width="0.2" textLength="9.70" lengthAdjust="spacingAndGlyphs">0.00</text>
<line x1="273.80" y1="290.50" x2="277.00" y2="290.50" stroke="#111" stroke-width="1.1"/>
<text x="270.20" y="292.30" font-size="5.0" text-anchor="end" fill="#333" stroke="#333" stroke-width="0.2" textLength="11.30" lengthAdjust="spacingAndGlyphs">-0.05</text>
<line x1="273.80" y1="300.60" x2="277.00" y2="300.60" stroke="#111" stroke-width="1.1"/>
<text x="270.20" y="302.40" font-size="5.0" text-anchor="end" fill="#333" stroke="#333" stroke-width="0.2" textLength="11.30" lengthAdjust="spacingAndGlyphs">-0.10</text>
<line x1="277.00" y1="280.40" x2="444.40" y2="280.40" stroke="#cfcfcf" stroke-width="0.7"/>
<line x1="277.00" y1="307.70" x2="444.40" y2="307.70" stroke="#dedede" stroke-width="0.6"/>
<rect x="277.60" y="308.20" width="1.30" height="24.80" fill="#0f0f0f"/>
<rect x="280.00" y="308.20" width="1.80" height="24.80" fill="#6e6e6e"/>
<rect x="283.00" y="308.20" width="1.70" height="24.80" fill="#282828"/>
<rect x="284.70" y="308.20" width="1.70" height="24.80" fill="#787878"/>
<rect x="286.40" y="308.20" width="2.30" height="24.80" fill="#282828"/>
<rect x="290.40" y="308.20" width="2.30" height="24.80" fill="#787878"/>
<rect x="294.50" y="308.20" width="2.30" height="24.80" fill="#787878"/>
<rect x="296.80" y="308.20" width="2.20" height="24.80" fill="#191919"/>
<rect x="299.00" y="308.20" width="1.02" height="24.80" fill="#1e1e1e"/>
<rect x="300.72" y="308.20" width="1.19" height="24.80" fill="#1e1e1e"/>
<rect x="305.40" y="308.20" width="3.50" height="24.80" fill="#141414"/>
<rect x="310.60" y="308.20" width="2.30" height="24.80" fill="#737373"/>
<rect x="314.00" y="308.20" width="1.68" height="24.80" fill="#1e1e1e"/>
<rect x="315.88" y="308.20" width="1.36" height="24.80" fill="#1e1e1e"/>
<rect x="319.80" y="308.20" width="2.20" height="24.80" fill="#787878"/>
<rect x="322.00" y="308.20" width="1.72" height="24.80" fill="#1e1e1e"/>
<rect x="324.08" y="308.20" width="1.15" height="24.80" fill="#1e1e1e"/>
<rect x="325.48" y="308.20" width="1.22" height="24.80" fill="#1e1e1e"/>
<rect x="326.70" y="308.20" width="1.80" height="24.80" fill="#828282"/>
<rect x="328.50" y="308.20" width="1.69" height="24.80" fill="#1e1e1e"/>
<rect x="330.41" y="308.20" width="0.99" height="24.80" fill="#1e1e1e"/>
<rect x="333.00" y="308.20" width="1.47" height="24.80" fill="#1e1e1e"/>
<rect x="334.69" y="308.20" width="1.16" height="24.80" fill="#1e1e1e"/>
<rect x="338.00" y="308.20" width="1.80" height="24.80" fill="#191919"/>
<rect x="339.80" y="308.20" width="1.10" height="24.80" fill="#787878"/>
<rect x="340.90" y="308.20" width="1.80" height="24.80" fill="#2d2d2d"/>
<rect x="342.70" y="308.20" width="2.30" height="24.80" fill="#6e6e6e"/>
<rect x="346.50" y="308.20" width="1.90" height="24.80" fill="#828282"/>
<rect x="348.40" y="308.20" width="1.70" height="24.80" fill="#191919"/>
<rect x="352.50" y="308.20" width="1.70" height="24.80" fill="#828282"/>
<rect x="354.20" y="308.20" width="2.30" height="24.80" fill="#191919"/>
<rect x="358.20" y="308.20" width="1.80" height="24.80" fill="#787878"/>
<rect x="362.80" y="308.20" width="1.70" height="24.80" fill="#b4b4b4"/>
<rect x="366.30" y="308.20" width="4.60" height="24.80" fill="#1e1e1e"/>
<rect x="373.80" y="308.20" width="2.30" height="24.80" fill="#191919"/>
<rect x="376.10" y="308.20" width="2.30" height="24.80" fill="#6e6e6e"/>
<rect x="381.30" y="308.20" width="1.05" height="24.80" fill="#1e1e1e"/>
<rect x="383.13" y="308.20" width="1.09" height="24.80" fill="#1e1e1e"/>
<rect x="386.50" y="308.20" width="1.70" height="24.80" fill="#191919"/>
<rect x="388.20" y="308.20" width="2.30" height="24.80" fill="#787878"/>
<rect x="390.50" y="308.20" width="1.70" height="24.80" fill="#191919"/>
<rect x="392.90" y="308.20" width="2.30" height="24.80" fill="#787878"/>
<rect x="396.30" y="308.20" width="1.01" height="24.80" fill="#1e1e1e"/>
<rect x="398.06" y="308.20" width="1.14" height="24.80" fill="#1e1e1e"/>
<rect x="399.20" y="308.20" width="2.30" height="24.80" fill="#191919"/>
<rect x="403.30" y="308.20" width="1.70" height="24.80" fill="#787878"/>
<rect x="405.00" y="308.20" width="2.30" height="24.80" fill="#323232"/>
<rect x="408.50" y="308.20" width="2.30" height="24.80" fill="#787878"/>
<rect x="412.50" y="308.20" width="2.30" height="24.80" fill="#323232"/>
<rect x="414.80" y="308.20" width="2.30" height="24.80" fill="#191919"/>
<rect x="417.10" y="308.20" width="2.30" height="24.80" fill="#aaaaaa"/>
<rect x="421.70" y="308.20" width="1.70" height="24.80" fill="#969696"/>
<rect x="423.40" y="308.20" width="0.95" height="24.80" fill="#1e1e1e"/>
<rect x="424.95" y="308.20" width="1.14" height="24.80" fill="#1e1e1e"/>
<rect x="428.60" y="308.20" width="2.30" height="24.80" fill="#2d2d2d"/>
<rect x="434.40" y="308.20" width="2.30" height="24.80" fill="#323232"/>
<defs><linearGradient id="g457" x1="0" x2="1" y1="0" y2="0"><stop offset="0" stop-color="#dd5058"/><stop offset="0.45" stop-color="#e0626a"/><stop offset="0.8" stop-color="#e57c84"/><stop offset="1" stop-color="#ea9098"/></linearGradient></defs>
<rect x="277.00" y="333.00" width="46.90" height="6.20" fill="url(#g457)"/>
<rect x="323.90" y="333.00" width="21.10" height="6.20" fill="#f0d0ee"/>
<rect x="345.00" y="333.00" width="17.00" height="6.20" fill="#e4dcf4"/>
<rect x="362.00" y="333.00" width="20.40" height="6.20" fill="#dcdcf6"/>
<rect x="382.40" y="333.00" width="16.50" height="6.20" fill="#7e7eec"/>
<rect x="398.90" y="333.00" width="31.10" height="6.20" fill="#5048e2"/>
<rect x="430.00" y="333.00" width="7.30" height="6.20" fill="#2412c8"/>
<line x1="277.00" y1="339.50" x2="444.40" y2="339.50" stroke="#e6e6e6" stroke-width="0.6"/>
<line x1="273.80" y1="345.50" x2="277.00" y2="345.50" stroke="#111" stroke-width="1.1"/>
<text x="270.20" y="347.30" font-size="5.0" text-anchor="end" fill="#333" stroke="#333" stroke-width="0.2" textLength="6.95" lengthAdjust="spacingAndGlyphs">1.0</text>
<line x1="273.80" y1="356.00" x2="277.00" y2="356.00" stroke="#111" stroke-width="1.1"/>
<text x="270.20" y="357.80" font-size="5.0" text-anchor="end" fill="#333" stroke="#333" stroke-width="0.2" textLength="6.95" lengthAdjust="spacingAndGlyphs">0.5</text>
<line x1="273.80" y1="366.50" x2="277.00" y2="366.50" stroke="#111" stroke-width="1.1"/>
<text x="270.20" y="368.30" font-size="5.0" text-anchor="end" fill="#333" stroke="#333" stroke-width="0.2" textLength="6.95" lengthAdjust="spacingAndGlyphs">0.0</text>
<line x1="273.80" y1="377.00" x2="277.00" y2="377.00" stroke="#111" stroke-width="1.1"/>
<text x="270.20" y="378.80" font-size="5.0" text-anchor="end" fill="#333" stroke="#333" stroke-width="0.2" textLength="8.55" lengthAdjust="spacingAndGlyphs">-0.5</text>
<line x1="273.80" y1="387.50" x2="277.00" y2="387.50" stroke="#111" stroke-width="1.1"/>
<text x="270.20" y="389.30" font-size="5.0" text-anchor="end" fill="#333" stroke="#333" stroke-width="0.2" textLength="8.55" lengthAdjust="spacingAndGlyphs">-1.0</text>
<polygon points="277.00,359.28 278.00,360.26 279.00,361.06 280.00,361.72 281.00,362.26 282.01,362.71 283.01,363.07 284.01,363.38 285.01,363.63 286.01,363.84 287.01,364.02 288.01,364.17 289.01,364.30 290.02,364.41 291.02,364.51 292.02,364.59 293.02,364.67 294.02,364.73 295.02,364.79 296.02,364.85 297.02,364.90 298.03,364.95 299.03,364.99 300.03,365.03 301.03,365.07 302.03,365.11 303.03,365.15 304.03,365.19 305.03,365.22 306.04,365.26 307.04,365.30 308.04,365.33 309.04,365.36 310.04,365.40 311.04,365.43 312.04,365.47 313.05,365.50 314.05,365.53 315.05,365.57 316.05,365.60 317.05,365.63 318.05,365.67 319.05,365.70 320.05,365.73 321.06,365.76 322.06,365.80 323.06,365.83 324.06,365.86 325.06,365.90 326.06,365.93 327.06,365.96 328.06,365.99 329.06,366.03 330.07,366.06 331.07,366.09 332.07,366.13 333.07,366.16 334.07,366.19 335.07,366.22 336.07,366.26 337.07,366.29 338.08,366.32 339.08,366.36 340.08,366.39 341.08,366.42 342.08,366.45 343.08,366.49 344.08,366.52 345.08,366.55 346.09,366.58 347.09,366.62 348.09,366.65 349.09,366.68 350.09,366.72 351.09,366.75 352.09,366.78 353.09,366.81 354.10,366.85 355.10,366.88 356.10,366.91 357.10,366.95 358.10,366.98 359.10,367.01 360.10,367.04 361.11,367.08 362.11,367.11 363.11,367.14 364.11,367.18 365.11,367.21 366.11,367.24 367.11,367.27 368.11,367.31 369.12,367.34 370.12,367.37 371.12,367.41 372.12,367.44 373.12,367.47 374.12,367.50 375.12,367.54 376.12,367.57 377.12,367.60 378.13,367.63 379.13,367.67 380.13,367.70 381.13,367.73 382.13,367.77 383.13,367.80 384.13,367.83 385.13,367.86 386.14,367.90 387.14,367.93 388.14,367.96 389.14,368.00 390.14,368.03 391.14,368.06 392.14,368.09 393.14,368.13 394.15,368.16 395.15,368.19 396.15,368.23 397.15,368.26 398.15,368.29 399.15,368.32 400.15,368.36 401.15,368.39 402.16,368.42 403.16,368.46 404.16,368.49 405.16,368.52 406.16,368.55 407.16,368.59 408.16,368.62 409.16,368.65 410.17,368.69 411.17,368.72 412.17,368.75 413.17,368.79 414.17,368.82 415.17,368.85 416.17,368.89 417.17,368.92 418.18,368.96 419.18,369.00 420.18,369.03 421.18,369.07 422.18,369.12 423.18,369.16 424.18,369.22 425.19,369.28 426.19,369.34 427.19,369.43 428.19,369.53 429.19,369.65 430.19,369.81 431.19,370.02 432.19,370.29 433.19,370.64 434.20,371.12 435.20,371.75 436.20,372.61 437.20,373.77 437.20,366.50 277.00,366.50" fill="#dedede"/>
<line x1="277.00" y1="366.50" x2="437.20" y2="366.50" stroke="#e2e2e2" stroke-width="0.7"/>
<line x1="438.00" y1="366.50" x2="438.00" y2="389.20" stroke="#f0f0f0" stroke-width="0.6"/>
<line x1="343.50" y1="341.20" x2="343.50" y2="389.20" stroke="#f3f3f3" stroke-width="0.6"/>
<text x="343.50" y="367.90" font-size="4.5" text-anchor="middle" fill="#2a2a2a" textLength="30.80" lengthAdjust="spacingAndGlyphs">Zero cross at 9322</text>
<text x="279.50" y="343.40" font-size="4.5" text-anchor="start" fill="#d84848" textLength="53.50" lengthAdjust="spacingAndGlyphs">'Class0' (positively correlated)</text>
<text x="362.30" y="388.90" font-size="4.5" text-anchor="start" fill="#4040d0" textLength="57.40" lengthAdjust="spacingAndGlyphs">'Class1' (negatively correlated)</text>
<line x1="276.40" y1="390.20" x2="443.80" y2="390.20" stroke="#000" stroke-width="1.5"/>
<line x1="277.00" y1="233.00" x2="277.00" y2="390.90" stroke="#000" stroke-width="1.3"/>
<line x1="276.90" y1="388.60" x2="276.90" y2="392.80" stroke="#000" stroke-width="1.0"/>
<text x="276.90" y="401.20" font-size="5.3" text-anchor="middle" fill="#333" stroke="#333" stroke-width="0.2">0</text>
<line x1="296.85" y1="388.60" x2="296.85" y2="392.80" stroke="#000" stroke-width="1.0"/>
<text x="296.85" y="401.20" font-size="5.3" text-anchor="middle" fill="#333" stroke="#333" stroke-width="0.2" textLength="12.50" lengthAdjust="spacingAndGlyphs">2,500</text>
<line x1="316.80" y1="388.60" x2="316.80" y2="392.80" stroke="#000" stroke-width="1.0"/>
<text x="316.80" y="401.20" font-size="5.3" text-anchor="middle" fill="#333" stroke="#333" stroke-width="0.2" textLength="12.50" lengthAdjust="spacingAndGlyphs">5,000</text>
<line x1="336.75" y1="388.60" x2="336.75" y2="392.80" stroke="#000" stroke-width="1.0"/>
<text x="336.75" y="401.20" font-size="5.3" text-anchor="middle" fill="#333" stroke="#333" stroke-width="0.2" textLength="12.50" lengthAdjust="spacingAndGlyphs">7,500</text>
<line x1="356.70" y1="388.60" x2="356.70" y2="392.80" stroke="#000" stroke-width="1.0"/>
<text x="356.70" y="401.20" font-size="5.3" text-anchor="middle" fill="#333" stroke="#333" stroke-width="0.2" textLength="15.60" lengthAdjust="spacingAndGlyphs">10,000</text>
<line x1="376.65" y1="388.60" x2="376.65" y2="392.80" stroke="#000" stroke-width="1.0"/>
<text x="376.65" y="401.20" font-size="5.3" text-anchor="middle" fill="#333" stroke="#333" stroke-width="0.2" textLength="15.60" lengthAdjust="spacingAndGlyphs">12,500</text>
<line x1="396.60" y1="388.60" x2="396.60" y2="392.80" stroke="#000" stroke-width="1.0"/>
<text x="396.60" y="401.20" font-size="5.3" text-anchor="middle" fill="#333" stroke="#333" stroke-width="0.2" textLength="15.60" lengthAdjust="spacingAndGlyphs">15,000</text>
<line x1="416.55" y1="388.60" x2="416.55" y2="392.80" stroke="#000" stroke-width="1.0"/>
<text x="416.55" y="401.20" font-size="5.3" text-anchor="middle" fill="#333" stroke="#333" stroke-width="0.2" textLength="15.60" lengthAdjust="spacingAndGlyphs">17,500</text>
<line x1="436.50" y1="388.60" x2="436.50" y2="392.80" stroke="#000" stroke-width="1.0"/>
<text x="436.50" y="401.20" font-size="5.3" text-anchor="middle" fill="#333" stroke="#333" stroke-width="0.2" textLength="15.60" lengthAdjust="spacingAndGlyphs">20,000</text>
<text x="360.50" y="411.60" font-size="7.3" text-anchor="middle" fill="#222" stroke="#222" stroke-width="0.2" textLength="55.20" lengthAdjust="spacingAndGlyphs">Rank in ordered dataset</text>
<line x1="282.00" y1="420.50" x2="289.00" y2="420.50" stroke="#a2c68a" stroke-width="1.4"/>
<text x="292.00" y="422.30" font-size="5.5" text-anchor="start" fill="#222" stroke="#222" stroke-width="0.2" textLength="40.60" lengthAdjust="spacingAndGlyphs">Enrichment profile</text>
<line x1="342.60" y1="420.50" x2="347.80" y2="420.50" stroke="#333" stroke-width="0.9"/>
<text x="351.30" y="422.30" font-size="5.5" text-anchor="start" fill="#222" stroke="#222" stroke-width="0.2" textLength="9.10" lengthAdjust="spacingAndGlyphs">Hits</text>
<line x1="368.50" y1="420.50" x2="385.80" y2="420.50" stroke="#eeeeee" stroke-width="1.8"/>
<text x="389.00" y="422.30" font-size="5.5" text-anchor="start" fill="#222" stroke="#222" stroke-width="0.2" textLength="50.70" lengthAdjust="spacingAndGlyphs">Ranking metric scores</text>
<text x="254.00" y="271.20" font-size="6.6" text-anchor="middle" fill="#222" stroke="#222" stroke-width="0.2" textLength="51.00" lengthAdjust="spacingAndGlyphs" transform="rotate(-90 254.00 271.20)">Enrichment score (ES)</text>
<text x="256.00" y="366.50" font-size="6.6" text-anchor="middle" fill="#222" stroke="#222" stroke-width="0.2" textLength="76.30" lengthAdjust="spacingAndGlyphs" transform="rotate(-90 256.00 366.50)">Ranked list metric (Signal2Noise)</text>
<polyline points="277.6,272.5 277.6,271.2 277.9,261.5 279.0,254.5 280.4,253.1 282.5,253.8 284.6,248.2 287.3,246.1 289.4,244.0 290.8,240.6 293.6,242.0 296.4,241.3 298.5,239.2 300.6,238.5 302.7,235.0 305.5,237.8 309.0,235.0 312.4,238.5 316.6,240.6 319.4,242.0 323.6,244.7 327.8,247.5 333.6,253.2 339.2,260.2 344.7,267.2 350.3,273.5 355.9,279.1 361.5,284.6 365.7,288.8 369.8,290.9 374.0,293.7 378.2,295.1 380.0,298.1 382.8,300.2 386.3,302.3 389.1,300.2 391.9,299.1 395.3,301.3 399.5,303.3 402.3,300.2 405.1,303.0 409.3,300.9 412.8,303.0 415.6,298.8 419.1,298.1 422.5,299.5 425.3,291.1 428.1,289.1 431.6,287.9 434.4,287.4 435.8,290.4 437.2,280.0" fill="none" stroke="#dcf5cc" stroke-width="2.9" stroke-linejoin="round" stroke-linecap="round"/>
<polyline points="277.6,272.5 277.6,271.2 277.9,261.5 279.0,254.5 280.4,253.1 282.5,253.8 284.6,248.2 287.3,246.1 289.4,244.0 290.8,240.6 293.6,242.0 296.4,241.3 298.5,239.2 300.6,238.5 302.7,235.0 305.5,237.8 309.0,235.0 312.4,238.5 316.6,240.6 319.4,242.0 323.6,244.7 327.8,247.5 333.6,253.2 339.2,260.2 344.7,267.2 350.3,273.5 355.9,279.1 361.5,284.6 365.7,288.8 369.8,290.9 374.0,293.7 378.2,295.1 380.0,298.1 382.8,300.2 386.3,302.3 389.1,300.2 391.9,299.1 395.3,301.3 399.5,303.3 402.3,300.2 405.1,303.0 409.3,300.9 412.8,303.0 415.6,298.8 419.1,298.1 422.5,299.5 425.3,291.1 428.1,289.1 431.6,287.9 434.4,287.4 435.8,290.4 437.2,280.0" fill="none" stroke="#95dc5e" stroke-width="1.45" stroke-linejoin="round" stroke-linecap="round"/>
<text x="360.80" y="228.80" font-size="7.0" text-anchor="middle" fill="#111" font-weight="bold" textLength="169.30" lengthAdjust="spacingAndGlyphs" stroke="#111" stroke-width="0.22">Enrichment plot: KEGG_MAPK_SIGNALING_PATHWAY</text>
<text x="13.80" y="99.50" font-size="7.0" text-anchor="middle" fill="#222" stroke="#222" stroke-width="0.2" textLength="69.00" lengthAdjust="spacingAndGlyphs" transform="rotate(-90 13.80 99.50)">Normal donor cord blood</text>
<text x="21.20" y="98.50" font-size="5.4" text-anchor="middle" fill="#222" stroke="#222" stroke-width="0.2" textLength="4.20" lengthAdjust="spacingAndGlyphs" transform="rotate(-90 21.20 98.50)">vs</text>
<text x="28.80" y="99.60" font-size="7.0" text-anchor="middle" fill="#222" stroke="#222" stroke-width="0.2" textLength="71.00" lengthAdjust="spacingAndGlyphs" transform="rotate(-90 28.80 99.60)">Normal donor adult blood</text>
<text x="12.80" y="316.20" font-size="7.0" text-anchor="middle" fill="#222" stroke="#222" stroke-width="0.2" textLength="27.80" lengthAdjust="spacingAndGlyphs" transform="rotate(-90 12.80 316.20)">Post CBT</text>
<text x="20.60" y="317.20" font-size="5.4" text-anchor="middle" fill="#222" stroke="#222" stroke-width="0.2" textLength="4.20" lengthAdjust="spacingAndGlyphs" transform="rotate(-90 20.60 317.20)">vs</text>
<text x="28.40" y="316.20" font-size="7.0" text-anchor="middle" fill="#222" stroke="#222" stroke-width="0.2" textLength="27.80" lengthAdjust="spacingAndGlyphs" transform="rotate(-90 28.40 316.20)">Post BMT</text>
<text x="8.20" y="18.10" font-size="11.0" text-anchor="start" fill="#000" font-weight="bold" stroke="#000" stroke-width="0.45">A</text>
<text x="8.30" y="233.80" font-size="11.0" text-anchor="start" fill="#000" font-weight="bold" stroke="#000" stroke-width="0.45">B</text>
<line x1="472.50" y1="156.70" x2="475.50" y2="156.70" stroke="#111" stroke-width="1.1"/>
<text x="469.20" y="159.20" font-size="7.0" text-anchor="end" fill="#222" stroke="#222" stroke-width="0.2">0</text>
<line x1="472.50" y1="130.12" x2="475.50" y2="130.12" stroke="#111" stroke-width="1.1"/>
<text x="469.20" y="132.62" font-size="7.0" text-anchor="end" fill="#222" stroke="#222" stroke-width="0.2">2</text>
<line x1="472.50" y1="103.54" x2="475.50" y2="103.54" stroke="#111" stroke-width="1.1"/>
<text x="469.20" y="106.04" font-size="7.0" text-anchor="end" fill="#222" stroke="#222" stroke-width="0.2">4</text>
<line x1="472.50" y1="76.96" x2="475.50" y2="76.96" stroke="#111" stroke-width="1.1"/>
<text x="469.20" y="79.46" font-size="7.0" text-anchor="end" fill="#222" stroke="#222" stroke-width="0.2">6</text>
<line x1="472.50" y1="50.38" x2="475.50" y2="50.38" stroke="#111" stroke-width="1.1"/>
<text x="469.20" y="52.88" font-size="7.0" text-anchor="end" fill="#222" stroke="#222" stroke-width="0.2">8</text>
<line x1="472.50" y1="23.80" x2="475.50" y2="23.80" stroke="#111" stroke-width="1.1"/>
<text x="469.20" y="26.30" font-size="7.0" text-anchor="end" fill="#222" stroke="#222" stroke-width="0.2">10</text>
<line x1="484.95" y1="84.27" x2="484.95" y2="51.71" stroke="#1a1a1a" stroke-width="1.2"/>
<line x1="481.35" y1="51.71" x2="488.55" y2="51.71" stroke="#1a1a1a" stroke-width="1.2"/>
<line x1="503.40" y1="62.74" x2="503.40" y2="44.67" stroke="#1a1a1a" stroke-width="1.2"/>
<line x1="499.80" y1="44.67" x2="507.00" y2="44.67" stroke="#1a1a1a" stroke-width="1.2"/>
<rect x="478.90" y="84.27" width="12.10" height="72.43" fill="#2d4b82" stroke="#25375e" stroke-width="0.6"/>
<rect x="497.20" y="62.74" width="12.40" height="93.96" fill="#ae0230" stroke="#8a0020" stroke-width="0.6"/>
<line x1="475.50" y1="21.20" x2="475.50" y2="157.30" stroke="#111" stroke-width="1.2"/>
<line x1="473.30" y1="156.70" x2="512.60" y2="156.70" stroke="#111" stroke-width="1.3"/>
<line x1="484.90" y1="156.70" x2="484.90" y2="159.50" stroke="#111" stroke-width="1.0"/>
<line x1="503.40" y1="156.70" x2="503.40" y2="159.50" stroke="#111" stroke-width="1.0"/>
<text x="489.40" y="167.70" font-size="7.8" text-anchor="end" fill="#222" stroke="#222" stroke-width="0.2" transform="rotate(-45 489.40 167.70)">FOS</text>
<text x="507.60" y="167.70" font-size="7.8" text-anchor="end" fill="#222" stroke="#222" stroke-width="0.2" transform="rotate(-45 507.60 167.70)">JUN</text>
<text x="458.40" y="88.90" font-size="7.6" text-anchor="middle" fill="#222" stroke="#222" stroke-width="0.2" textLength="35.80" lengthAdjust="spacingAndGlyphs" transform="rotate(-90 458.40 88.90)">Fold change</text>
<line x1="472.50" y1="349.30" x2="475.50" y2="349.30" stroke="#111" stroke-width="1.1"/>
<text x="469.20" y="351.80" font-size="7.0" text-anchor="end" fill="#222" stroke="#222" stroke-width="0.2">0</text>
<line x1="472.50" y1="323.30" x2="475.50" y2="323.30" stroke="#111" stroke-width="1.1"/>
<text x="469.20" y="325.80" font-size="7.0" text-anchor="end" fill="#222" stroke="#222" stroke-width="0.2">2</text>
<line x1="472.50" y1="297.30" x2="475.50" y2="297.30" stroke="#111" stroke-width="1.1"/>
<text x="469.20" y="299.80" font-size="7.0" text-anchor="end" fill="#222" stroke="#222" stroke-width="0.2">4</text>
<line x1="472.50" y1="271.30" x2="475.50" y2="271.30" stroke="#111" stroke-width="1.1"/>
<text x="469.20" y="273.80" font-size="7.0" text-anchor="end" fill="#222" stroke="#222" stroke-width="0.2">6</text>
<line x1="472.50" y1="245.30" x2="475.50" y2="245.30" stroke="#111" stroke-width="1.1"/>
<text x="469.20" y="247.80" font-size="7.0" text-anchor="end" fill="#222" stroke="#222" stroke-width="0.2">8</text>
<line x1="472.50" y1="219.30" x2="475.50" y2="219.30" stroke="#111" stroke-width="1.1"/>
<text x="469.20" y="221.80" font-size="7.0" text-anchor="end" fill="#222" stroke="#222" stroke-width="0.2">10</text>
<rect x="478.90" y="294.18" width="12.10" height="55.12" fill="#2d4b82" stroke="#25375e" stroke-width="0.6"/>
<rect x="497.20" y="300.94" width="12.40" height="48.36" fill="#ae0230" stroke="#8a0020" stroke-width="0.6"/>
<line x1="475.50" y1="216.80" x2="475.50" y2="349.90" stroke="#111" stroke-width="1.2"/>
<line x1="473.30" y1="349.30" x2="512.60" y2="349.30" stroke="#111" stroke-width="1.3"/>
<line x1="484.90" y1="349.30" x2="484.90" y2="352.10" stroke="#111" stroke-width="1.0"/>
<line x1="503.40" y1="349.30" x2="503.40" y2="352.10" stroke="#111" stroke-width="1.0"/>
<text x="489.40" y="360.30" font-size="7.8" text-anchor="end" fill="#222" stroke="#222" stroke-width="0.2" transform="rotate(-45 489.40 360.30)">FOS</text>
<text x="507.60" y="360.30" font-size="7.8" text-anchor="end" fill="#222" stroke="#222" stroke-width="0.2" transform="rotate(-45 507.60 360.30)">JUN</text>
<text x="458.40" y="282.40" font-size="7.6" text-anchor="middle" fill="#222" stroke="#222" stroke-width="0.2" textLength="35.80" lengthAdjust="spacingAndGlyphs" transform="rotate(-90 458.40 282.40)">Fold change</text>
</g>
<rect x="0" y="0" width="520" height="1.5" fill="#000"/><rect x="0" y="0" width="1.6" height="430" fill="#000"/><rect x="518.4" y="0" width="1.6" height="430" fill="#000"/><rect x="0" y="428.2" width="520" height="1.8" fill="#000"/>
</svg>
</body></html>
